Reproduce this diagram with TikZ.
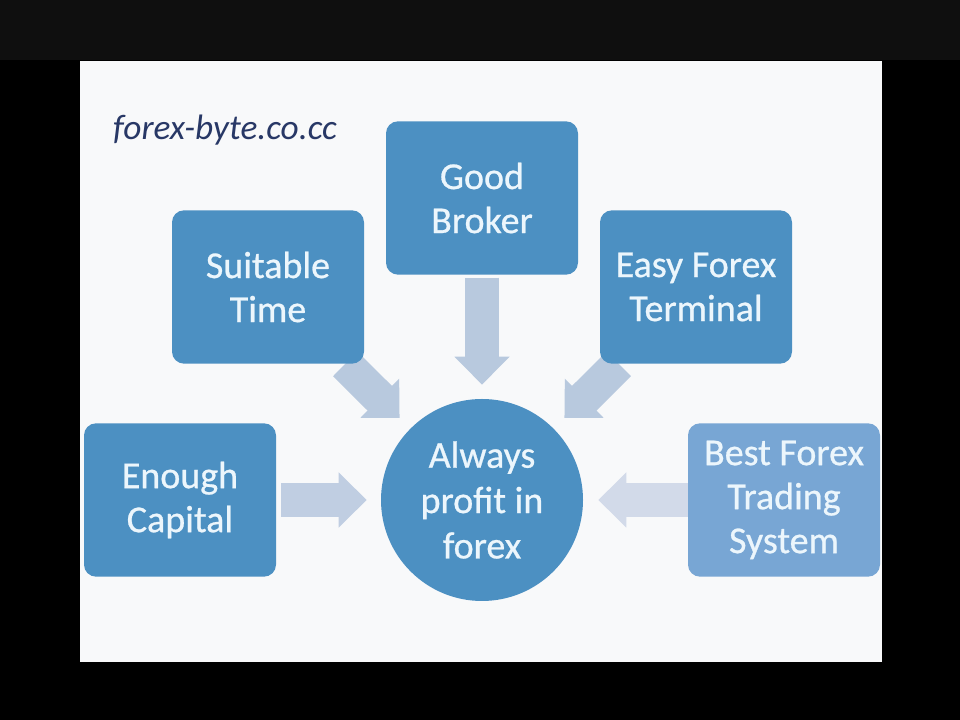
\documentclass[tikz,border=0pt]{standalone}
\usepackage{fontspec}
\setmainfont{Carlito}
\newfontfamily\boxfont[FakeBold=0.7]{Carlito}
\usetikzlibrary{arrows.meta,backgrounds}
\definecolor{boxblue}{RGB}{76,144,194}
\definecolor{paleblue}{RGB}{120,166,212}
\definecolor{boxtext}{RGB}{236,246,252}
\definecolor{arrowblue}{RGB}{184,201,222}
\definecolor{arrowleft}{RGB}{192,206,226}
\definecolor{arrowright}{RGB}{210,218,233}
\definecolor{titlenavy}{RGB}{40,56,102}
\definecolor{slidebg}{RGB}{248,249,250}
\definecolor{bandgray}{RGB}{15,15,15}

\begin{document}
\begin{tikzpicture}[x=0.75pt, y=0.75pt,
  factor/.style={rounded corners=9pt, fill=boxblue, minimum width=144pt, minimum height=115pt, align=center, text=boxtext, font=\boxfont\fontsize{28.5}{33}\selectfont},
  goal/.style={circle, fill=boxblue, minimum size=151.5pt, inner sep=0pt, align=center, text=boxtext, font=\boxfont\fontsize{28.5}{34}\selectfont},
  fat/.style={line width=26pt, -{Triangle[length=21pt,width=40pt]}}
]
  \useasboundingbox (0,0) rectangle (960,720);

  % Title
  \node[text=titlenavy, font=\itshape\fontsize{26.5}{30}\selectfont] (site) at (225,590) {forex-byte.co.cc};

  % Factors
  \node[factor] (broker) at (482,522) {Good\\Broker};
  \node[factor] (time) at (268,433) {Suitable\\Time};
  \node[factor] (terminal) at (696,433) {Easy Forex\\Terminal};
  \node[factor] (capital) at (180,220) {Enough\\Capital};
  \node[factor, fill=paleblue] (system) at (784,220) {Best Forex\\Trading\\System};

  % Goal
  \node[goal] (profit) at (482,220) {Always\\profit in\\forex};

  \begin{scope}[on background layer]
    % Slide
    \fill[black] (0,0) rectangle (960,720);
    \fill[bandgray] (0,660) rectangle (960,720);
    \fill[slidebg] (80,58) rectangle (882,659);

    % Arrows into the goal
    \draw[fat, arrowblue, shorten <=2pt, shorten >=10.5pt] (broker) -- (profit);
    \draw[fat, arrowblue, shorten >=11.25pt] (time) -- (profit);
    \draw[fat, arrowblue, shorten >=11.25pt] (terminal) -- (profit);
    \draw[fat, arrowleft, shorten <=3.75pt, shorten >=10.5pt] (capital) -- (profit);
    \draw[fat, arrowright, shorten >=11.25pt] (system) -- (profit);
  \end{scope}
\end{tikzpicture}
\end{document}
